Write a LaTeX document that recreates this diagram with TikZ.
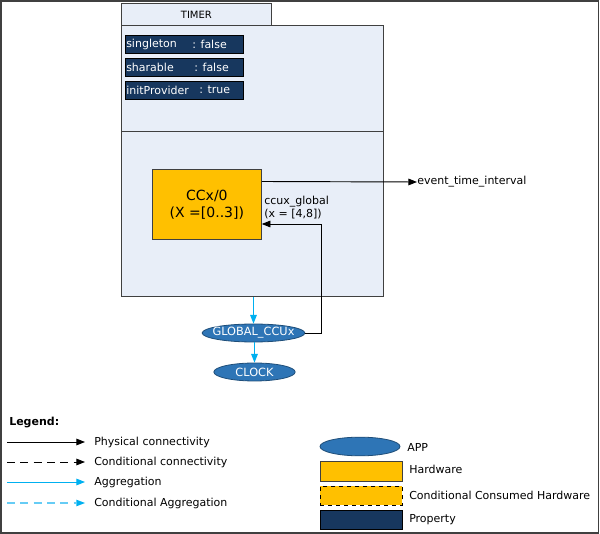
\documentclass[tikz,border=0pt]{standalone}
\usepackage{fontspec}
\setmainfont{DejaVu Sans}
\usetikzlibrary{arrows.meta,shapes.geometric}
\definecolor{panel}{HTML}{E8EEF8}
\definecolor{navy}{HTML}{17375E}
\definecolor{hw}{HTML}{FFC000}
\definecolor{app}{HTML}{2E75B6}
\definecolor{appb}{HTML}{1F4E79}
\definecolor{agg}{HTML}{00B0F0}
\definecolor{aggl}{HTML}{66CCF5}
\definecolor{frame}{HTML}{404040}
\tikzset{
  txt/.style={font=\fontsize{8.25}{10}\selectfont, inner sep=0pt, anchor=west},
  prop/.style={draw=black, line width=0.75pt, fill=navy, minimum width=88.5pt, minimum height=13.5pt, inner sep=0pt},
  proptxt/.style={txt, text=white},
  appnode/.style={ellipse, draw=appb, line width=0.6pt, fill=app, text=white, inner sep=0pt, font=\fontsize{8.5}{10}\selectfont},
  hwbox/.style={draw=frame, line width=0.6pt, fill=hw, inner sep=0pt},
  phys/.style={draw=black, line width=0.7pt, -{Triangle[length=6.5pt,width=5pt]}},
  aggr/.style={draw=agg, line width=0.7pt, -{Triangle[length=6.5pt,width=5pt]}},
}
\begin{document}
\begin{tikzpicture}[x=0.75pt,y=-0.75pt]
\useasboundingbox (0,0) rectangle (600,534);
\draw[frame, line width=0.8pt] (1,1) rectangle (598.5,533);
% TIMER container
\node[draw=frame, line width=0.6pt, fill=panel, minimum width=196.5pt, minimum height=203.25pt, inner sep=0pt, anchor=north west] (main) at (121,25) {};
\node[draw=frame, line width=0.6pt, fill=panel, minimum width=112.5pt, minimum height=16.5pt, inner sep=0pt, anchor=north west, font=\fontsize{7.5}{9}\selectfont] (tab) at (121,3) {TIMER};
\coordinate (divL) at (121,131);
\coordinate (divR) at (383,131);
\draw[frame, line width=0.6pt] (divL) -- (divR);
% properties
\node[prop, anchor=north west] (p1) at (125,35) {};
\node[prop, anchor=north west] (p2) at (125,58) {};
\node[prop, anchor=north west] (p3) at (125,81) {};
\node[proptxt] (p1a) at (126,44) {singleton};
\node[proptxt] (p1b) at (192,44) {: false};
\node[proptxt] (p2a) at (126,67) {sharable};
\node[proptxt] (p2b) at (194,67) {: false};
\node[proptxt] (p3a) at (126,90) {initProvider};
\node[proptxt] (p3b) at (199,90) {: true};
% CCx
\node[hwbox, minimum width=81.75pt, minimum height=52.5pt, anchor=north west, align=center, font=\fontsize{10.5}{13}\selectfont] (ccx) at (152,169) {CCx/0\\(X =[0..3])};
\node[txt, align=left, anchor=north west, font=\fontsize{8.25}{10}\selectfont] (cculbl) at (264,196) {ccux\_global\\(x = [4,8])};
% ellipses
\node[appnode, minimum width=77pt, minimum height=13.5pt] (gccu) at (253.5,333) {\makebox[0pt]{GLOBAL\_CCUx}};
\node[appnode, minimum width=61pt, minimum height=13.5pt] (clock) at (254.5,372) {\makebox[0pt]{CLOCK}};
% event
\node[txt] (evt) at (417,182) {event\_time\_interval};
\draw[phys] (ccx.east |- 0,181.5) -- (evt.west);
% ccux_global loop
\coordinate (c1) at (321,333);
\coordinate (c2) at (321,224);
\draw[phys] (gccu.east) -- (c1) -- (c2) -- (ccx.east |- c2);
% aggregation
\draw[aggr] (main.south -| gccu.north) -- (gccu.north);
\draw[aggr] (gccu.south -| clock.north) -- (clock.north);
% Legend
\node[txt, font=\bfseries\fontsize{8.25}{10}\selectfont] (leg) at (9,423) {Legend:};
\coordinate (l1a) at (7,442); \coordinate (l1b) at (85,442);
\coordinate (l2a) at (7,462); \coordinate (l2b) at (85,462);
\coordinate (l3a) at (7,482); \coordinate (l3b) at (85,482);
\coordinate (l4a) at (7,503); \coordinate (l4b) at (85,503);
\draw[phys] (l1a) -- (l1b);
\draw[phys, dash pattern=on 6pt off 4pt] (l2a) -- (l2b);
\draw[aggr] (l3a) -- (l3b);
\draw[draw=aggl, line width=1.5pt, dash pattern=on 6pt off 4pt, -{Triangle[length=6.5pt,width=5pt,line width=0pt,color=agg]}] (l4a) -- (l4b);
\node[txt] (t1) at (94,442) {Physical connectivity};
\node[txt] (t2) at (94,462) {Conditional connectivity};
\node[txt] (t3) at (94,482) {Aggregation};
\node[txt] (t4) at (94,503) {Conditional Aggregation};
\node[appnode, minimum width=60pt, minimum height=14pt] (lapp) at (360,446.5) {};
\node[hwbox, minimum width=61.5pt, minimum height=15pt, anchor=north west] (lhw) at (320,461) {};
\node[hwbox, dashed, draw=black, minimum width=61.5pt, minimum height=14.25pt, anchor=north west] (lchw) at (320,486) {};
\node[draw=black, line width=0.6pt, fill=navy, minimum width=61.5pt, minimum height=14.25pt, inner sep=0pt, anchor=north west] (lprop) at (320,510) {};
\node[txt] (a1) at (407,447) {APP};
\node[txt] (a2) at (409,469) {Hardware};
\node[txt] (a3) at (409,495) {Conditional Consumed Hardware};
\node[txt] (a4) at (409,520) {Property};
\end{tikzpicture}
\end{document}
